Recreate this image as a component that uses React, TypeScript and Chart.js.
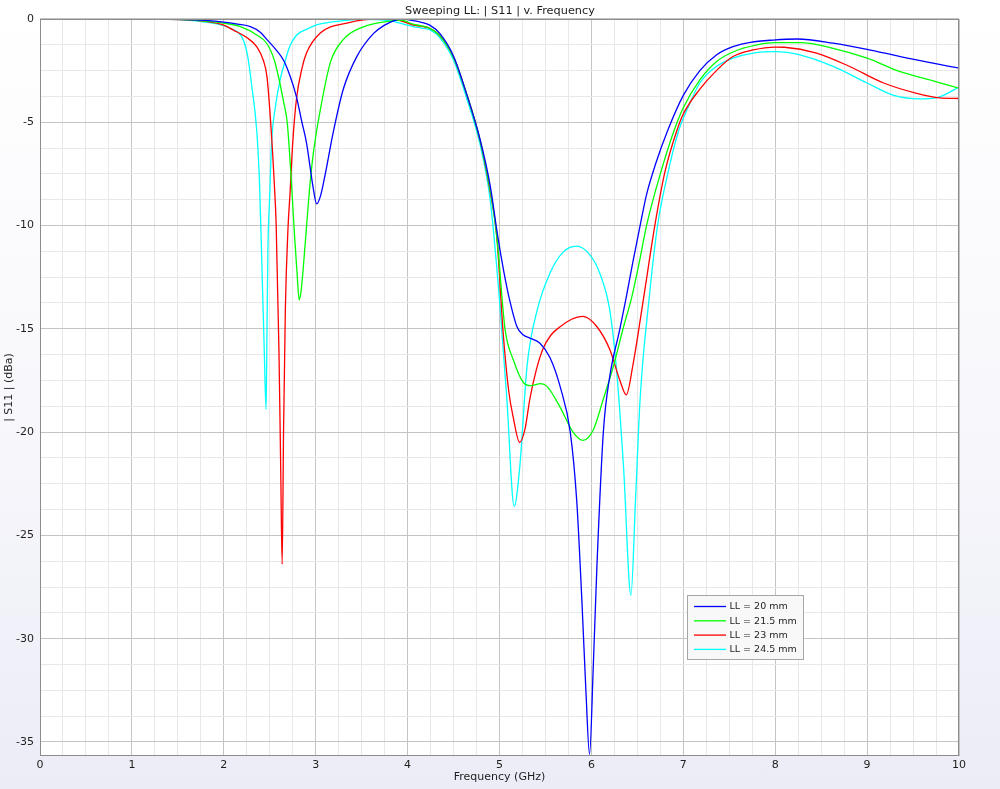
import React, { useEffect, useRef } from "react";
import { Chart, registerables } from "chart.js";

Chart.register(...registerables);

const FONT = "'DejaVu Sans', 'Liberation Sans', sans-serif";

const chartTitle = "Sweeping LL: | S11 | v. Frequency";
const xAxisTitle = "Frequency (GHz)";
const yAxisTitle = "| S11 | (dBa)";

const seriesLabels = ["LL = 20 mm", "LL = 21.5 mm", "LL = 23 mm", "LL = 24.5 mm"];
const seriesColors = ["#0000ff", "#00ff00", "#ff0000", "#00ffff"];

const xMajorTicks = [0, 1, 2, 3, 4, 5, 6, 7, 8, 9, 10];
const yMajorTicks = [-35, -30, -25, -20, -15, -10, -5, 0];
const X_MIN = 0;
const X_MAX = 10;
const Y_MIN = -35.68;
const Y_MAX = 0;
const MINOR_DIV = 4;

// LL = 20 mm
const freqLL20 = [0, 0.5, 1.0, 1.5, 1.8, 2.0, 2.15, 2.29, 2.4, 2.47, 2.56, 2.65, 2.72, 2.79, 2.85, 2.9, 2.94, 2.97, 3.01, 3.05, 3.1, 3.19, 3.3, 3.45, 3.63, 3.75, 3.84, 3.95, 4.06, 4.15, 4.24, 4.35, 4.5, 4.64, 4.79, 4.9, 4.98, 5.05, 5.11, 5.19, 5.26, 5.33, 5.44, 5.55, 5.66, 5.77, 5.84, 5.9, 5.94, 5.98, 6.02, 6.06, 6.13, 6.2, 6.31, 6.38, 6.45, 6.53, 6.6, 6.7, 6.83, 7.0, 7.18, 7.36, 7.54, 7.73, 7.98, 8.24, 8.63, 9.0, 9.36, 10];
const s11LL20 = [0, 0, 0, -0.02, -0.07, -0.15, -0.25, -0.37, -0.65, -1.0, -1.45, -2.0, -2.75, -3.76, -5.0, -6.0, -7.2, -8.1, -8.95, -8.6, -7.6, -5.5, -3.4, -1.8, -0.7, -0.3, -0.1, 0, -0.08, -0.16, -0.3, -0.7, -1.8, -3.6, -5.86, -8.1, -10.5, -12.3, -13.6, -14.9, -15.3, -15.45, -15.7, -16.4, -17.8, -20.0, -23.3, -28.5, -32.5, -35.6, -31.4, -26.5, -20.0, -17.3, -15.0, -13.45, -11.8, -10.0, -8.5, -7.0, -5.4, -3.7, -2.5, -1.74, -1.34, -1.13, -1.02, -0.97, -1.17, -1.47, -1.82, -2.38];

// LL = 21.5 mm
const freqLL215 = [0, 0.5, 1.0, 1.5, 1.8, 2.0, 2.18, 2.35, 2.47, 2.55, 2.61, 2.65, 2.69, 2.73, 2.77, 2.8, 2.82, 2.84, 2.86, 2.88, 2.91, 2.94, 2.98, 3.05, 3.16, 3.3, 3.52, 3.81, 3.92, 4.06, 4.15, 4.24, 4.35, 4.5, 4.64, 4.79, 4.9, 4.97, 5.06, 5.15, 5.26, 5.34, 5.45, 5.52, 5.66, 5.8, 5.91, 6.02, 6.13, 6.24, 6.35, 6.44, 6.52, 6.6, 6.75, 6.9, 7.0, 7.18, 7.36, 7.54, 7.8, 8.0, 8.27, 8.63, 9.0, 9.36, 9.72, 10];
const s11LL215 = [0, 0, 0, -0.02, -0.1, -0.2, -0.37, -0.75, -1.2, -2.0, -3.1, -4.0, -5.0, -7.5, -10.5, -12.5, -13.6, -13.2, -12.3, -11.2, -9.5, -7.9, -6.3, -4.4, -2.1, -1.0, -0.38, -0.1, -0.05, -0.25, -0.33, -0.45, -0.8, -1.85, -3.6, -5.9, -8.3, -10.5, -15.0, -16.5, -17.6, -17.75, -17.65, -17.8, -18.8, -20.0, -20.4, -19.9, -18.4, -16.8, -14.9, -13.45, -11.8, -10.0, -7.5, -5.4, -4.3, -2.95, -2.07, -1.6, -1.26, -1.15, -1.15, -1.42, -1.9, -2.55, -3.0, -3.35];

// LL = 23 mm
const freqLL23 = [0, 0.5, 1.0, 1.5, 1.8, 2.0, 2.1, 2.25, 2.36, 2.43, 2.47, 2.51, 2.55, 2.57, 2.6, 2.62, 2.635, 2.65, 2.67, 2.7, 2.72, 2.75, 2.79, 2.85, 2.9, 3.05, 3.34, 3.7, 3.9, 4.06, 4.15, 4.24, 4.35, 4.5, 4.64, 4.79, 4.9, 4.97, 5.04, 5.1, 5.15, 5.22, 5.28, 5.33, 5.4, 5.47, 5.56, 5.66, 5.78, 5.91, 6.06, 6.2, 6.31, 6.38, 6.45, 6.57, 6.69, 6.8, 6.93, 7.0, 7.18, 7.36, 7.54, 7.76, 8.0, 8.1, 8.45, 8.81, 9.18, 9.54, 9.79, 10];
const s11LL23 = [0, 0, 0, -0.03, -0.12, -0.3, -0.53, -0.9, -1.35, -2.0, -2.8, -5.0, -8.0, -10.0, -16.0, -22.0, -26.4, -20.0, -14.0, -10.0, -8.5, -6.0, -3.9, -2.4, -1.65, -0.68, -0.2, 0, -0.05, -0.3, -0.35, -0.45, -0.8, -1.85, -3.6, -5.9, -8.4, -10.5, -15.2, -18.0, -19.3, -20.5, -19.8, -18.4, -17.0, -16.0, -15.3, -14.9, -14.55, -14.4, -14.9, -16.0, -17.5, -18.2, -16.8, -13.45, -10.0, -7.4, -5.4, -4.6, -3.4, -2.5, -1.82, -1.5, -1.36, -1.37, -1.65, -2.3, -3.1, -3.6, -3.82, -3.85];

// LL = 24.5 mm
const freqLL245 = [0, 0.5, 1.0, 1.5, 1.8, 2.07, 2.21, 2.26, 2.3, 2.36, 2.39, 2.41, 2.44, 2.46, 2.47, 2.48, 2.5, 2.52, 2.56, 2.61, 2.67, 2.72, 2.78, 2.83, 2.9, 3.01, 3.26, 3.5, 3.8, 4.0, 4.06, 4.15, 4.24, 4.35, 4.5, 4.64, 4.79, 4.9, 5.0, 5.08, 5.16, 5.22, 5.3, 5.41, 5.55, 5.69, 5.84, 5.98, 6.09, 6.2, 6.27, 6.35, 6.43, 6.48, 6.53, 6.63, 6.72, 6.82, 6.95, 7.04, 7.18, 7.36, 7.54, 7.76, 8.0, 8.27, 8.63, 9.0, 9.29, 9.58, 9.79, 10];
const s11LL245 = [0, 0, 0, -0.03, -0.15, -0.45, -1.0, -1.8, -3.1, -5.5, -8.1, -11.2, -16.0, -18.9, -15.0, -11.2, -8.5, -6.0, -4.3, -3.0, -2.0, -1.3, -0.85, -0.65, -0.5, -0.29, -0.1, -0.02, -0.08, -0.3, -0.37, -0.44, -0.52, -0.9, -2.0, -3.8, -6.1, -8.8, -13.6, -18.4, -23.6, -21.7, -16.8, -14.1, -12.3, -11.3, -11.0, -11.4, -12.3, -14.1, -16.8, -21.7, -27.9, -23.3, -18.4, -13.45, -10.0, -7.7, -5.4, -4.4, -3.1, -2.3, -1.9, -1.65, -1.58, -1.74, -2.3, -3.1, -3.7, -3.87, -3.77, -3.3];

const seriesFreqs = [freqLL20, freqLL215, freqLL23, freqLL245];
const seriesValues = [s11LL20, s11LL215, s11LL23, s11LL245];

const MAJOR_GRID = "#c4c4c4";
const MINOR_GRID = "#e8e8e8";
const TEXT = "#1e1e1e";

function withMinor(major: number[]): number[] {
  const sorted = [...major].sort((a, b) => a - b);
  const out: number[] = [];
  for (let i = 0; i < sorted.length; i++) {
    out.push(sorted[i]);
    if (i < sorted.length - 1) {
      const step = (sorted[i + 1] - sorted[i]) / MINOR_DIV;
      for (let k = 1; k < MINOR_DIV; k++) out.push(sorted[i] + step * k);
    }
  }
  return out;
}

function isMajor(v: number, majors: number[]) {
  return majors.some((m) => Math.abs(m - v) < 1e-6);
}

const plotBackground = {
  id: "plotBackground",
  beforeDraw(chart: any) {
    const { ctx, chartArea } = chart;
    ctx.save();
    ctx.fillStyle = "#ffffff";
    ctx.fillRect(chartArea.left, chartArea.top, chartArea.right - chartArea.left, chartArea.bottom - chartArea.top);
    ctx.restore();
  },
};

const plotFrame = {
  id: "plotFrame",
  afterDraw(chart: any) {
    const { ctx, chartArea } = chart;
    ctx.save();
    ctx.strokeStyle = "#8c8c8c";
    ctx.lineWidth = 1;
    const l = Math.round(chartArea.left) + 0.5;
    const t = Math.round(chartArea.top) + 0.5;
    const r = Math.round(chartArea.right) - 0.5;
    const b = Math.round(chartArea.bottom) - 0.5;
    ctx.strokeRect(l, t, r - l, b - t);
    ctx.restore();
  },
};

const boxLegend = {
  id: "boxLegend",
  afterDraw(chart: any) {
    const { ctx } = chart;
    const ds = chart.data.datasets;
    const x = 687.5;
    const y = 595.5;
    const w = 116;
    const h = 64;
    ctx.save();
    ctx.fillStyle = "#f8f8f8";
    ctx.strokeStyle = "#a6a6a6";
    ctx.lineWidth = 1;
    ctx.fillRect(x, y, w, h);
    ctx.strokeRect(x, y, w, h);
    ctx.font = `9.5px ${FONT}`;
    ctx.textBaseline = "middle";
    ctx.textAlign = "left";
    ds.forEach((d: any, i: number) => {
      const yy = 606.5 + i * 14.3;
      ctx.strokeStyle = d.borderColor;
      ctx.lineWidth = 1.3;
      ctx.beginPath();
      ctx.moveTo(694, yy);
      ctx.lineTo(726, yy);
      ctx.stroke();
      ctx.fillStyle = TEXT;
      ctx.fillText(d.label, 729.5, yy + 0.5);
    });
    ctx.restore();
  },
};

export default function App() {
  const canvasRef = useRef<HTMLCanvasElement | null>(null);

  useEffect(() => {
    if (!canvasRef.current) return;
    const xTicks = withMinor(xMajorTicks);
    const yTicks = withMinor(yMajorTicks);

    const datasets = seriesLabels.map((label, i) => ({
      label,
      data: seriesFreqs[i].map((f, j) => ({ x: f, y: seriesValues[i][j] })),
      borderColor: seriesColors[i],
      backgroundColor: seriesColors[i],
      borderWidth: 1.3,
      pointRadius: 0,
      fill: false,
      cubicInterpolationMode: "monotone" as const,
    }));

    const chart = new Chart(canvasRef.current, {
      type: "line",
      data: { datasets },
      plugins: [plotBackground, plotFrame, boxLegend],
      options: {
        animation: false,
        responsive: false,
        events: [],
        layout: { padding: 0 },
        plugins: {
          legend: { display: false },
          tooltip: { enabled: false },
          title: {
            display: true,
            text: chartTitle,
            color: TEXT,
            font: { family: FONT, size: 11.3, weight: "normal" },
            padding: { top: 4.3, bottom: 1.1 },
          },
        },
        scales: {
          x: {
            type: "linear",
            position: "bottom",
            min: X_MIN,
            max: X_MAX,
            afterBuildTicks: (s: any) => {
              s.ticks = xTicks.map((v) => ({ value: v }));
            },
            afterFit: (s: any) => {
              s.height = 33;
            },
            grid: {
              drawTicks: false,
              lineWidth: 1,
              color: (c: any) => (c.tick && isMajor(c.tick.value, xMajorTicks) ? MAJOR_GRID : MINOR_GRID),
            },
            border: { display: false },
            ticks: {
              autoSkip: false,
              maxRotation: 0,
              padding: 3,
              color: TEXT,
              font: { family: FONT, size: 11 },
              callback: (v: any) => (isMajor(Number(v), xMajorTicks) ? String(Math.round(Number(v))) : ""),
            },
            title: {
              display: true,
              text: xAxisTitle,
              color: TEXT,
              font: { family: FONT, size: 11 },
              padding: { top: 0, bottom: 5.4 },
            },
          },
          y: {
            type: "linear",
            position: "left",
            min: Y_MIN,
            max: Y_MAX,
            afterBuildTicks: (s: any) => {
              s.ticks = yTicks.map((v) => ({ value: v }));
            },
            afterFit: (s: any) => {
              s.width = 40;
            },
            grid: {
              drawTicks: false,
              lineWidth: 1,
              color: (c: any) => (c.tick && isMajor(c.tick.value, yMajorTicks) ? MAJOR_GRID : MINOR_GRID),
            },
            border: { display: false },
            ticks: {
              autoSkip: false,
              padding: 6,
              color: TEXT,
              font: { family: FONT, size: 11 },
              callback: (v: any) => (isMajor(Number(v), yMajorTicks) ? String(Math.round(Number(v))) : ""),
            },
            title: {
              display: true,
              text: yAxisTitle,
              color: TEXT,
              font: { family: FONT, size: 11 },
              padding: { top: 2.4, bottom: 0 },
            },
          },
          yRight: {
            type: "linear",
            position: "right",
            display: true,
            min: Y_MIN,
            max: Y_MAX,
            grid: { display: false, drawTicks: false },
            border: { display: false },
            ticks: { display: false },
            afterFit: (s: any) => {
              s.width = 41;
            },
          },
        },
      } as any,
    });

    return () => chart.destroy();
  }, []);

  return (
    <div
      style={{
        position: "absolute",
        left: 0,
        top: 0,
        width: 1000,
        height: 789,
        background: "linear-gradient(180deg, #ffffff 0%, #f8f8fc 50%, #ececf7 100%)",
      }}
    >
      <canvas ref={canvasRef} width={1000} height={789} style={{ display: "block", width: 1000, height: 789 }} />
    </div>
  );
}
